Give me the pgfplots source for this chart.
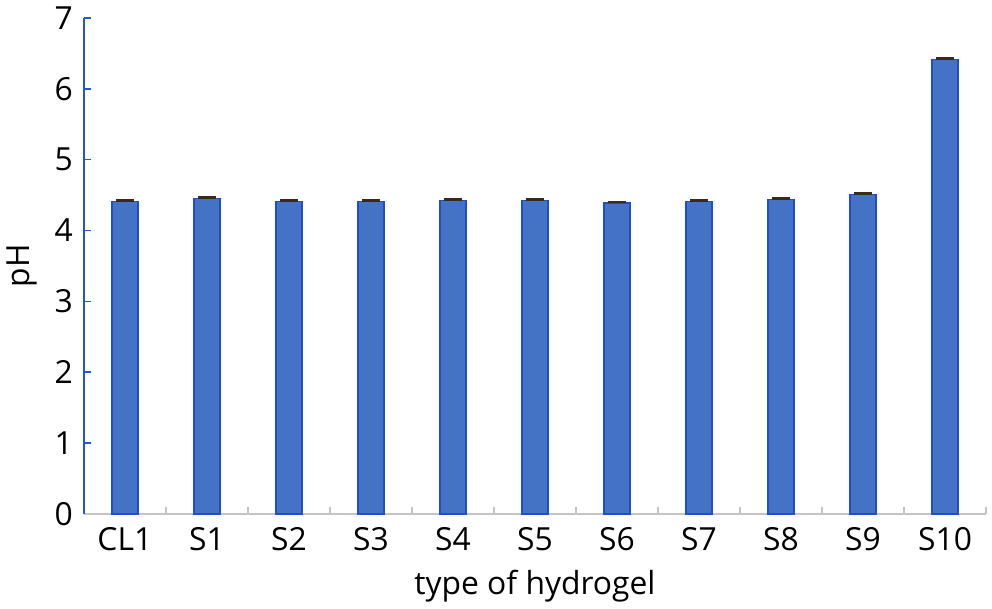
\documentclass[border=0pt]{standalone}
\usepackage{pgfplots}
\pgfplotsset{compat=1.18}
\usepackage{fontspec}
\setmainfont{Open Sans}
\definecolor{barfill}{HTML}{4472C4}
\definecolor{baredge}{HTML}{1F4FC8}
\definecolor{yaxblue}{HTML}{2356CF}
\definecolor{xaxgray}{HTML}{C4C4C4}
\definecolor{errc}{HTML}{3A2A1A}
\begin{document}
\begin{tikzpicture}
\begin{axis}[
  scale only axis,
  width=452bp, height=248.5bp,
  xmin=-0.5, xmax=10.5,
  ymin=0, ymax=7,
  axis lines*=left,
  x axis line style={xaxgray, line width=0.8pt},
  y axis line style={yaxblue, line width=0.8pt},
  xtick={0,...,10},
  xticklabels={CL1,S1,S2,S3,S4,S5,S6,S7,S8,S9,S10},
  minor xtick={-0.5,0.5,...,10.5},
  major x tick style={draw=none},
  minor x tick style={xaxgray, line width=0.8pt},
  minor tick length=3.5bp,
  ytick={0,...,7},
  y tick style={yaxblue, line width=0.8pt},
  major tick length=3.5bp,
  tick align=inside,
  tick label style={font=\fontsize{16}{19}\selectfont},
  /pgf/number format/assume math mode=true,
  xticklabel style={yshift=-3bp},
  yticklabel style={xshift=-2bp},
  xlabel={type of hydrogel},
  ylabel={pH},
  label style={font=\fontsize{16}{19}\selectfont},
  xlabel style={yshift=-3bp},
  ylabel style={yshift=2bp},
  clip=false,
]
\addplot[ybar, bar width=13bp, fill=barfill, draw=baredge, line width=0.7pt,
  error bars/.cd, y dir=plus, y explicit,
  error bar style={errc, line width=1.3pt},
  error mark options={errc, line width=1.3pt, mark size=4.5bp, rotate=90}]
  coordinates {
  (0,4.41) +- (0,0.015)
  (1,4.45) +- (0,0.015)
  (2,4.41) +- (0,0.015)
  (3,4.41) +- (0,0.015)
  (4,4.42) +- (0,0.015)
  (5,4.42) +- (0,0.015)
  (6,4.39) +- (0,0.01)
  (7,4.41) +- (0,0.015)
  (8,4.44) +- (0,0.015)
  (9,4.51) +- (0,0.015)
  (10,6.41) +- (0,0.015)
  };
\end{axis}
\path (current axis.south west) ++(-41bp,-44bp) coordinate (bl);
\path (current axis.south west) ++(455bp,256.5bp) coordinate (tr);
\useasboundingbox (bl) rectangle (tr);
\end{tikzpicture}
\end{document}
